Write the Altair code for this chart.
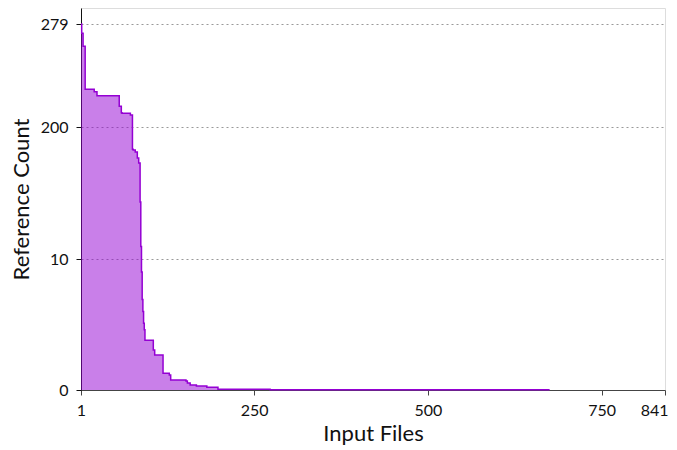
import altair as alt
import pandas as pd

# step-function data: input file rank (x) and reference count (y)
files = [1, 2, 4, 7, 20, 24, 56, 59, 60, 72, 75, 76, 79, 82, 84, 86, 87, 88, 89, 90,
         91, 92, 93, 105, 107, 119, 128, 130, 152, 154, 158, 167, 182, 198, 273, 675]
counts = [279, 272, 262, 229, 227, 224, 216, 211, 210.5, 209.2, 168, 167, 164, 155.4, 148.2, 92,
          28, 9, 6.9, 6.0, 5.1, 4.6, 3.8, 3.05, 2.67, 1.27, 1.15, 0.76, 0.69, 0.53, 0.38,
          0.31, 0.21, 0.05, 0.02, 0.02]

x_ticks = [1, 250, 500, 750, 841]
y_ticks = [0, 10, 200, 279]
y_domain = [0, 10, 200, 279, 291.3]
y_range = [382, 251, 119, 16, 0]

df = pd.DataFrame({"files": files, "count": counts})

FONT = "Lato"
PURPLE = "#9400d3"

x = alt.X("files:Q", title="Input Files",
          scale=alt.Scale(domain=[1, 841], nice=False, zero=False),
          axis=alt.Axis(values=x_ticks, grid=False, tickSize=5, labelPadding=7,
                        labelFontSize=16, titleFontSize=22, titlePadding=5,
                        titleFontWeight="normal", labelFlush=False,
                        labelAlign={"condition": {"test": "datum.value == 841", "value": "right"},
                                    "value": "center"},
                        labelOffset={"condition": {"test": "datum.value == 841", "value": 3},
                                     "value": 0},
                        domainColor="#444", tickColor="#444", labelColor="#111",
                        titleColor="#111", labelOverlap=False))
y = alt.Y("count:Q", title="Reference Count",
          scale=alt.Scale(domain=y_domain, range=y_range, nice=False, zero=False),
          axis=alt.Axis(values=y_ticks, grid=True, gridDash=[2, 3], gridColor="#999",
                        tickSize=5, labelPadding=8, labelFontSize=16, titleFontSize=22,
                        titleFontWeight="normal",
                        titlePadding=7, domainColor="#111", tickColor="#111",
                        labelColor="#111", titleColor="#111", labelFlush=False,
                        labelOverlap=False))

area = alt.Chart(df).mark_area(interpolate="step-after", color=PURPLE, opacity=0.5).encode(x=x, y=y)
line = alt.Chart(df).mark_line(interpolate="step-after", color=PURPLE, strokeWidth=1.5).encode(x=x, y=y)

chart = (area + line).properties(
    width=584, height=382,
    autosize=alt.AutoSizeParams(type="none"),
    padding={"left": 73, "top": 0, "right": 4, "bottom": 56},
).configure_view(stroke="#555", strokeWidth=1).configure(font=FONT)

chart.save("out.html", embed_options={"renderer": "svg", "actions": False})
